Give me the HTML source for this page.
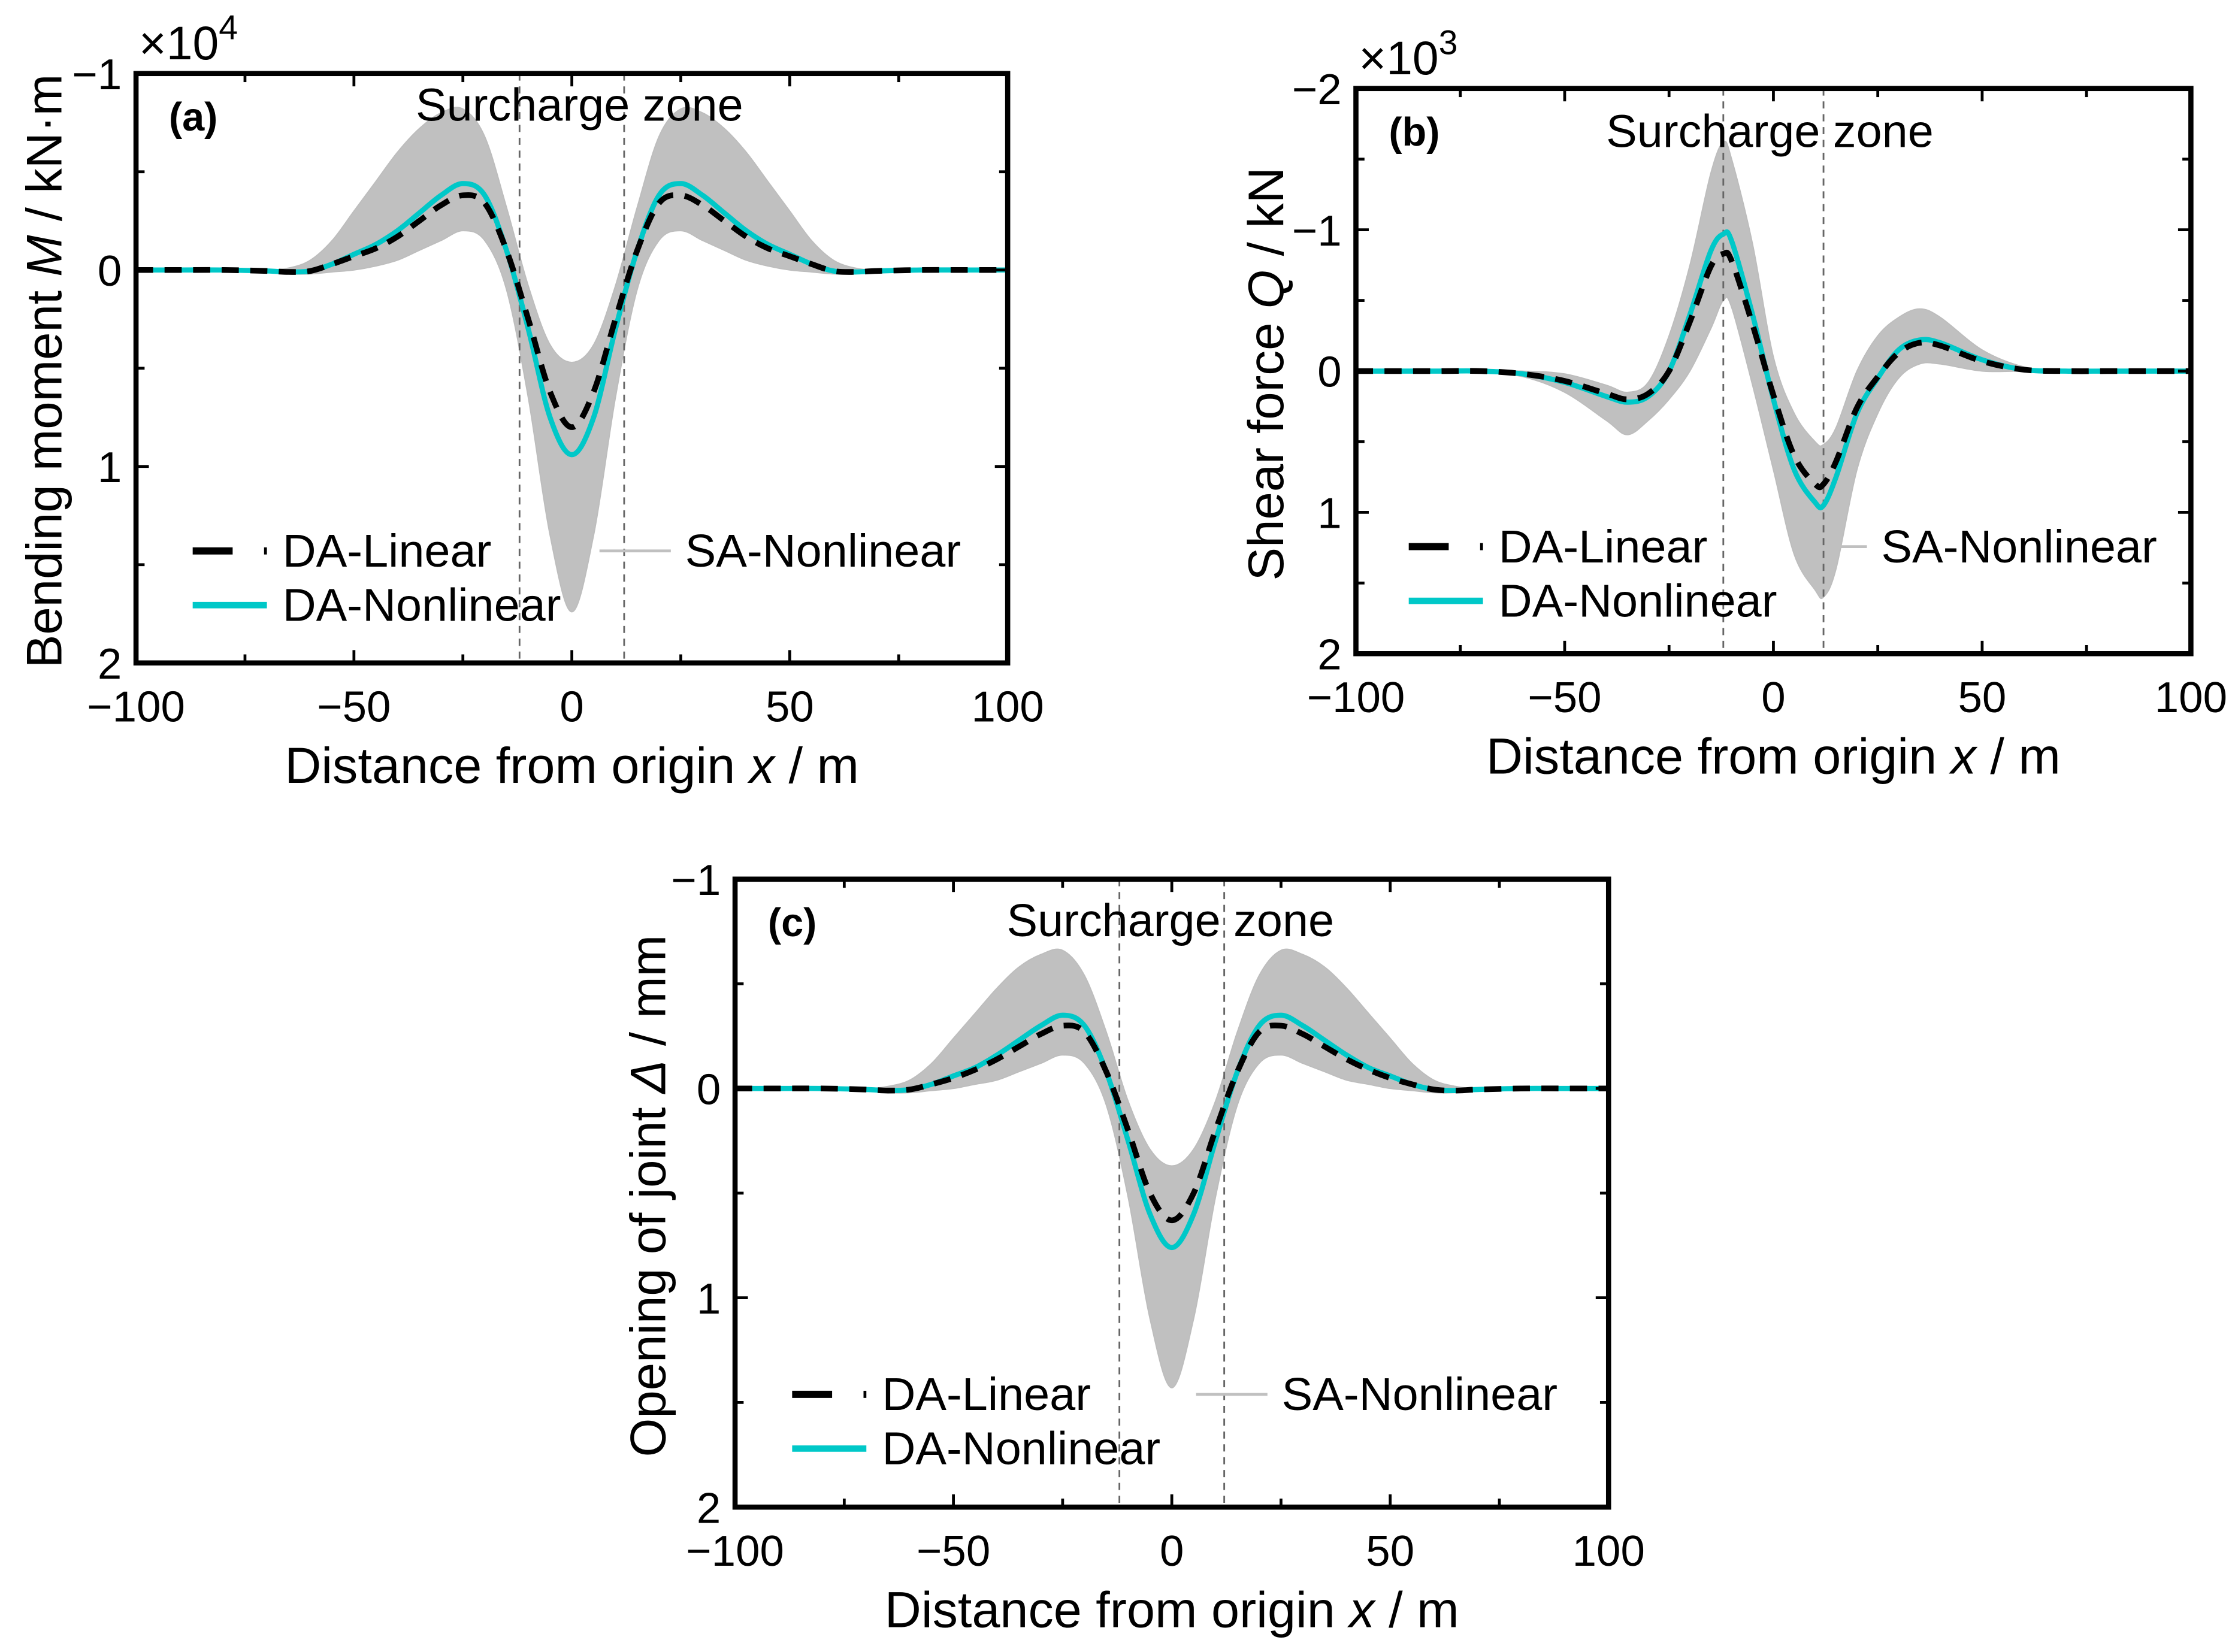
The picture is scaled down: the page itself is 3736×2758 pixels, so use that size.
<!DOCTYPE html>
<html><head><meta charset="utf-8"><style>
html,body{margin:0;padding:0;background:#fff}
svg{display:block}
text{font-family:"Liberation Sans",sans-serif;fill:#000}
</style></head><body>
<svg id="fig" width="3736" height="2758" viewBox="0 0 1568 1157.5" xmlns="http://www.w3.org/2000/svg"></svg>
<script>
// ---------- Panel (a): Bending moment (x1e4 kN·m) ----------
const xA = [-100,-90,-80,-70,-65,-60,-55,-50,-45,-40,-35,-30,-25,-20,-15,-10,-5,0,5,10,15,20,25,30,35,40,45,50,55,60,65,70,80,90,100];
const aNonlin = [0,0,0,0.005,0.01,0.005,-0.03,-0.08,-0.13,-0.2,-0.29,-0.38,-0.44,-0.38,-0.1,0.3,0.75,0.94,0.75,0.3,-0.1,-0.38,-0.44,-0.38,-0.29,-0.2,-0.13,-0.08,-0.03,0.005,0.01,0.005,0,0,0];
const aLin = [0,0,0,0.005,0.01,0.005,-0.03,-0.07,-0.11,-0.17,-0.25,-0.33,-0.38,-0.34,-0.1,0.25,0.62,0.8,0.62,0.25,-0.1,-0.34,-0.38,-0.33,-0.25,-0.17,-0.11,-0.07,-0.03,0.005,0.01,0.005,0,0,0];
const aUpper = [0,0,0,0,-0.01,-0.05,-0.15,-0.3,-0.45,-0.6,-0.72,-0.8,-0.82,-0.68,-0.32,0.08,0.38,0.47,0.38,0.08,-0.32,-0.68,-0.82,-0.8,-0.72,-0.6,-0.45,-0.3,-0.15,-0.05,-0.01,0,0,0,0];
const aLower = [0,0,0,0.01,0.02,0.02,0.01,0,-0.02,-0.05,-0.1,-0.15,-0.2,-0.15,0.1,0.65,1.35,1.74,1.35,0.65,0.1,-0.15,-0.2,-0.15,-0.1,-0.05,-0.02,0,0.01,0.02,0.02,0.01,0,0,0];
// ---------- Panel (b): Shear force (x1e3 kN) ----------
const xB = [-100,-90,-80,-70,-60,-50,-40,-35,-30,-25,-20,-15,-12,-10,-5,0,5,10,12,15,20,25,30,35,40,50,60,70,80,90,100];
const bNonlin = [0,0,0,0,0.02,0.08,0.18,0.22,0.18,0,-0.4,-0.85,-0.97,-0.92,-0.4,0.2,0.7,0.93,0.95,0.75,0.3,0.05,-0.15,-0.22,-0.2,-0.08,-0.01,0,0,0,0];
const bLin = [0,0,0,0,0.02,0.07,0.16,0.2,0.16,0,-0.35,-0.74,-0.83,-0.78,-0.33,0.17,0.6,0.8,0.8,0.64,0.26,0.04,-0.13,-0.2,-0.18,-0.07,-0.01,0,0,0,0];
const bUpper = [0,0,0,0,0,0.02,0.1,0.15,0.08,-0.25,-0.75,-1.4,-1.62,-1.5,-0.9,-0.1,0.3,0.5,0.52,0.4,0,-0.25,-0.38,-0.44,-0.38,-0.15,-0.03,0,0,0,0];
const bLower = [0,0,0,0.01,0.04,0.15,0.35,0.45,0.35,0.2,0,-0.3,-0.5,-0.45,0.1,0.7,1.3,1.55,1.6,1.4,0.7,0.3,0.05,-0.05,-0.05,0,0,0,0,0,0];
// ---------- Panel (c): Opening of joint (mm) ----------
const xC = xA;
const cNonlin = [0,0,0,0.005,0.01,0.005,-0.02,-0.06,-0.1,-0.16,-0.23,-0.3,-0.35,-0.3,-0.08,0.25,0.6,0.76,0.6,0.25,-0.08,-0.3,-0.35,-0.3,-0.23,-0.16,-0.1,-0.06,-0.02,0.005,0.01,0.005,0,0,0];
const cLin = [0,0,0,0.005,0.01,0.005,-0.02,-0.05,-0.09,-0.14,-0.2,-0.26,-0.3,-0.27,-0.08,0.2,0.5,0.63,0.5,0.2,-0.08,-0.27,-0.3,-0.26,-0.2,-0.14,-0.09,-0.05,-0.02,0.005,0.01,0.005,0,0,0];
const cUpper = [0,0,0,0,-0.01,-0.04,-0.12,-0.24,-0.36,-0.48,-0.58,-0.64,-0.66,-0.54,-0.27,0.06,0.29,0.37,0.29,0.06,-0.27,-0.54,-0.66,-0.64,-0.58,-0.48,-0.36,-0.24,-0.12,-0.04,-0.01,0,0,0,0];
const cLower = [0,0,0,0.01,0.02,0.02,0.01,0,-0.02,-0.04,-0.08,-0.12,-0.16,-0.12,0.08,0.52,1.1,1.43,1.1,0.52,0.08,-0.12,-0.16,-0.12,-0.08,-0.04,-0.02,0,0.01,0.02,0.02,0.01,0,0,0];
const yTicksA = ["\u22121","0","1","2"];
const yTicksB = ["\u22122","\u22121","0","1","2"];
const xTickLabels = ["\u2212100","\u221250","0","50","100"];

const NS="http://www.w3.org/2000/svg";
const svg=document.getElementById('fig');
function el(tag,attrs,parent){const e=document.createElementNS(NS,tag);for(const k in attrs)e.setAttribute(k,attrs[k]);(parent||svg).appendChild(e);return e;}
function smooth(pts){
  let d="M"+pts[0][0].toFixed(2)+","+pts[0][1].toFixed(2);
  for(let i=0;i<pts.length-1;i++){
    const p0=pts[Math.max(0,i-1)],p1=pts[i],p2=pts[i+1],p3=pts[Math.min(pts.length-1,i+2)];
    const c1=[p1[0]+(p2[0]-p0[0])/6,p1[1]+(p2[1]-p0[1])/6];
    const c2=[p2[0]-(p3[0]-p1[0])/6,p2[1]-(p3[1]-p1[1])/6];
    d+="C"+c1[0].toFixed(2)+","+c1[1].toFixed(2)+" "+c2[0].toFixed(2)+","+c2[1].toFixed(2)+" "+p2[0].toFixed(2)+","+p2[1].toFixed(2);
  }
  return d;
}
function panel(cfg){
  const g=el('g',{});
  
  
  const L=cfg.L,R=cfg.R,T=cfg.T,B=cfg.B;
  const sx=v=>L+(v+100)/200*(R-L);
  const sy=v=>T+(v-cfg.ymin)/(cfg.ymax-cfg.ymin)*(B-T);
  const up=cfg.x.map((v,i)=>[sx(v),sy(cfg.upper[i])]);
  const lo=cfg.x.map((v,i)=>[sx(v),sy(cfg.lower[i])]).reverse();
  let dBand=smooth(up)+"L"+smooth(lo).slice(1)+"Z";
  const band=el('path',{d:dBand,fill:'#c0c0c0',stroke:'#bdbdbd','stroke-width':0.8},g);
  
  
  [-12,12].forEach(v=>{
    const l=el('line',{x1:sx(v),x2:sx(v),y1:T,y2:B,stroke:'#666','stroke-width':1.2,'stroke-dasharray':'5,4'},g);
    
    
  });
  const nl=el('path',{d:smooth(cfg.x.map((v,i)=>[sx(v),sy(cfg.nonlin[i])])),fill:'none',stroke:'#00c8c8','stroke-width':3.6},g);
  
  
  const ll=el('path',{d:smooth(cfg.x.map((v,i)=>[sx(v),sy(cfg.lin[i])])),fill:'none',stroke:'#000','stroke-width':4,'stroke-dasharray':'12,8'},g);
  
  
  const fr=el('rect',{x:L,y:T,width:R-L,height:B-T,fill:'none',stroke:'#000','stroke-width':3.6},g);
  
  
  for(let v=-100;v<=100;v+=25){
    const len=(v%50===0)?9:6;
    el('line',{x1:sx(v),x2:sx(v),y1:B,y2:B-len,stroke:'#000','stroke-width':2},g);
    el('line',{x1:sx(v),x2:sx(v),y1:T,y2:T+len,stroke:'#000','stroke-width':2},g);
  }
  xTickLabels.forEach((t,i)=>{
    const tx=el('text',{x:sx(-100+50*i),y:B+41,'text-anchor':'middle','font-size':30.5},g);
    tx.textContent=t;
    
    
  });
  for(let v=cfg.ymin;v<=cfg.ymax+1e-9;v+=0.5){
    const len=(Math.abs(v%1)<1e-9)?9:6;
    el('line',{x1:L,x2:L+len,y1:sy(v),y2:sy(v),stroke:'#000','stroke-width':2},g);
    el('line',{x1:R,x2:R-len,y1:sy(v),y2:sy(v),stroke:'#000','stroke-width':2},g);
  }
  cfg.yt.forEach((t,i)=>{
    const tx=el('text',{x:L-10,y:sy(cfg.ymin+i)+11,'text-anchor':'end','font-size':30.5},g);
    tx.textContent=t;
    
    
  });
  const xt=el('text',{x:(L+R)/2,y:B+84,'text-anchor':'middle','font-size':35.5},g);
  xt.innerHTML='Distance from origin <tspan font-style="italic">x</tspan> / m';
  
  
  const yt=el('text',{x:0,y:0,'text-anchor':'middle','font-size':35,transform:`translate(${cfg.ytx},${(T+B)/2+2}) rotate(-90)`},g);
  yt.innerHTML=cfg.ytitle;
  
  
  if(cfg.mult){
    const m=el('text',{x:L+2,y:T-10,'font-size':33},g);
    m.innerHTML='\u00d710<tspan dy="-14" font-size="24">'+cfg.mult+'</tspan>';
    
    
  }
  const pl=el('text',{x:L+23,y:T+40,'font-size':28,'font-weight':'bold'},g);
  pl.textContent=cfg.label;
  
  
  const sz=el('text',{x:cfg.szx,y:T+cfg.szdy,'text-anchor':'middle','font-size':32.5},g);
  sz.textContent='Surcharge zone';
  
  
  const lx=cfg.legx, ly=cfg.legy;
  const lg=el('g',{},g);
  
  
  el('line',{x1:lx,x2:lx+28,y1:ly,y2:ly,stroke:'#000','stroke-width':5},lg);
  el('line',{x1:lx+50,x2:lx+52,y1:ly,y2:ly,stroke:'#000','stroke-width':5},lg);
  let t1=el('text',{x:lx+63,y:ly+11,'font-size':32.5},lg);t1.textContent='DA-Linear';
  
  
  el('line',{x1:lx,x2:lx+52,y1:ly+38,y2:ly+38,stroke:'#00c8c8','stroke-width':4.5},lg);
  let t2=el('text',{x:lx+63,y:ly+49,'font-size':32.5},lg);t2.textContent='DA-Nonlinear';
  
  
  el('line',{x1:cfg.leg2x,x2:cfg.leg2x+50,y1:ly,y2:ly,stroke:'#c0c0c0','stroke-width':2},lg);
  let t3=el('text',{x:cfg.leg2x+60,y:ly+11,'font-size':32.5},lg);t3.textContent='SA-Nonlinear';
  
  
}
panel({name:'panel-a-bending-moment',L:95.3,R:706,T:51.5,B:464.5,ymin:-1,ymax:2,yt:yTicksA,x:xA,nonlin:aNonlin,lin:aLin,upper:aUpper,lower:aLower,
  ytx:43,ytitle:'Bending moment <tspan font-style="italic">M</tspan> / kN\u00b7m',mult:'4',label:'(a)',szx:406,szdy:33,legx:135,legy:386,leg2x:420});
panel({name:'panel-b-shear-force',L:950,R:1535,T:62,B:458,ymin:-2,ymax:2,yt:yTicksB,x:xB,nonlin:bNonlin,lin:bLin,upper:bUpper,lower:bLower,
  ytx:899,ytitle:'Shear force <tspan font-style="italic">Q</tspan> / kN',mult:'3',label:'(b)',szx:1240,szdy:41,legx:987,legy:383,leg2x:1258});
panel({name:'panel-c-joint-opening',L:515,R:1127,T:616,B:1056,ymin:-1,ymax:2,yt:yTicksA,x:xC,nonlin:cNonlin,lin:cLin,upper:cUpper,lower:cLower,
  ytx:466,ytitle:'Opening of joint <tspan font-style="italic">\u0394</tspan> / mm',mult:null,label:'(c)',szx:820,szdy:40,legx:555,legy:977,leg2x:838});
</script>
</body></html>
